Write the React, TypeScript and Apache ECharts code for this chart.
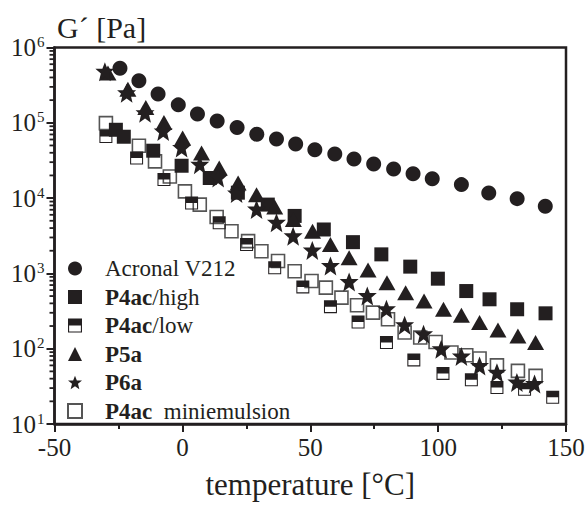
import React, { useEffect, useRef } from "react";
import * as echarts from "echarts";

const tAcronal = [-24.4, -17.0, -9.5, -1.6, 5.9, 13.6, 21.4, 29.1, 36.8, 44.3, 51.8, 59.6, 67.1, 74.8, 82.6, 90.2, 97.7, 109.1, 119.8, 130.9, 141.9];
const gAcronal = [531000, 363000, 242000, 173000, 131000, 106000, 86600, 70700, 60800, 52200, 43900, 38500, 33000, 28400, 24400, 21100, 18100, 15100, 11700, 9840, 7780];

const tHigh = [-26.0, -22.9, -11.4, -0.3, 10.7, 21.7, 33.4, 43.9, 55.3, 66.7, 77.8, 89.1, 99.9, 111.0, 120.1, 130.9, 142.0];
const gHigh = [80800, 65300, 42600, 26900, 18500, 11800, 8200, 5800, 3830, 2600, 1790, 1230, 851, 583, 453, 334, 295];

const tLow = [-29.9, -17.9, -7.2, 3.6, 14.4, 25.1, 36.1, 47.1, 57.9, 68.7, 79.8, 90.5, 101.9, 113.0, 123.0, 133.8, 144.8];
const gLow = [65900, 34000, 17600, 8630, 4690, 2420, 1190, 662, 362, 226, 121, 71, 47, 38.6, 30.6, 29, 22.6];

const tP5a = [-29.1, -21.3, -14.3, -7.2, 0.1, 7.5, 14.4, 21.8, 29.0, 36.1, 43.4, 50.9, 57.9, 65.2, 72.6, 80.0, 87.3, 94.5, 102.1, 109.1, 116.2, 123.4, 131.2, 138.1];
const gP5a = [459000, 280000, 160000, 101000, 62700, 39700, 25100, 15900, 11100, 7600, 5190, 3630, 2420, 1610, 1110, 754, 555, 430, 334, 278, 222, 177, 148, 121];

const tP6a = [-30.3, -21.8, -14.6, -7.5, -0.3, 6.8, 14.0, 21.2, 29.0, 36.8, 43.3, 50.8, 57.9, 65.2, 72.3, 79.8, 86.9, 94.3, 101.2, 109.1, 116.2, 123.0, 130.8, 137.7];
const gP6a = [478000, 247000, 134000, 76700, 46200, 27800, 18500, 11500, 7040, 4700, 3120, 2020, 1250, 767, 500, 334, 205, 156, 98, 79, 59, 48, 35.6, 33.9];

const tMini = [-29.9, -17.0, -10.7, -4.9, 1.0, 6.8, 13.4, 19.2, 25.7, 30.9, 37.4, 43.9, 50.5, 56.1, 62.2, 68.3, 74.5, 80.4, 86.9, 93.0, 99.0, 105.2, 111.0, 116.2, 123.0, 131.2, 138.1];
const gMini = [99100, 49600, 30700, 19400, 12300, 8200, 5600, 3630, 2680, 1970, 1460, 1070, 791, 647, 477, 377, 301, 246, 164, 141, 123, 89, 82, 74, 60, 50.8, 43.6];

const xTicks = [-50, 0, 50, 100, 150];
const yDecades = [10, 100, 1000, 10000, 100000, 1000000];

const names = ["Acronal V212", "P4ac/high", "P4ac/low", "P5a", "P6a", "P4ac  miniemulsion"];

const INK = "#231f20";
const FONT = "'Liberation Serif', 'Times New Roman', serif";
const HALF = "path://M0 0H20V20H0Z M1.6 1.6V18.4H18.4V1.6Z M1.6 1.6H18.4V10H1.6Z";
const STAR = "path://M50 0L63.2 32.5H100L71.4 56.2L81 95L50 73.5L19 95L28.6 56.2L0 32.5H36.8Z";

const pairs = (t: number[], g: number[]) => t.map((x, i) => [x, g[i]]);

export default function App() {
  const ref = useRef<HTMLDivElement>(null);
  useEffect(() => {
    if (!ref.current) return;
    const chart = echarts.init(ref.current, null, { renderer: "svg" });
    const minor: number[][] = [];
    for (let i = 0; i < yDecades.length - 1; i++) {
      for (let k = 2; k <= 9; k++) minor.push([-50, yDecades[i] * k]);
    }
    const base = { type: "scatter", animation: false };
    const solid = { color: INK, opacity: 1 };
    chart.setOption({
      animation: false,
      backgroundColor: "#fff",
      grid: {
        left: 54.5, right: 22, top: 47.5, bottom: 80,
        show: true, borderColor: INK, borderWidth: 2.5, backgroundColor: "transparent",
      },
      xAxis: {
        type: "value", min: -50, max: 150, interval: 50,
        axisLine: { onZero: false, lineStyle: { color: INK, width: 2.5 } },
        axisTick: { length: 8, lineStyle: { color: INK, width: 2 } },
        minorTick: { show: true, splitNumber: 2, length: 5, lineStyle: { color: INK, width: 2 } },
        splitLine: { show: false },
        axisLabel: { color: INK, fontFamily: FONT, fontSize: 25, margin: 11, formatter: (v: number) => (xTicks.includes(v) ? String(v) : "") },
        name: "temperature [°C]", nameLocation: "middle", nameGap: 45,
        nameTextStyle: { color: INK, fontFamily: FONT, fontSize: 31 },
      },
      yAxis: {
        type: "log", logBase: 10, min: 10, max: 1000000,
        axisLine: { onZero: false, lineStyle: { color: INK, width: 2.5 } },
        axisTick: { length: 8, lineStyle: { color: INK, width: 2 } },
        splitLine: { show: false },
        axisLabel: {
          margin: 10, color: INK, fontFamily: FONT,
          formatter: (v: number) => `{b|10}{s|${Math.round(Math.log10(v))}}`,
          rich: {
            b: { fontSize: 25, fontFamily: FONT, color: INK, lineHeight: 26 },
            s: { fontSize: 15, fontFamily: FONT, color: INK, verticalAlign: "top", lineHeight: 15, padding: [0, 0, 0, 1] },
          },
        },
      },
      legend: {
        orient: "vertical", left: 62, top: 252, itemWidth: 14, itemHeight: 14, itemGap: 5.5,
        selectedMode: false, data: names,
        formatter: (n: string) => {
          if (n === "Acronal V212") return `{sp|}{n|Acronal V212}`;
          if (n === "P4ac/high") return `{sp|}{b|P4ac}{n|/high}`;
          if (n === "P4ac/low") return `{sp|}{b|P4ac}{n|/low}`;
          if (n === "P5a") return `{sp|}{b|P5a}`;
          if (n === "P6a") return `{sp|}{b|P6a}`;
          return `{sp|}{b|P4ac}{n|  miniemulsion}`;
        },
        textStyle: {
          color: INK, fontFamily: FONT, fontSize: 23,
          rich: {
            sp: { width: 18 },
            n: { fontSize: 23, fontFamily: FONT, color: INK, lineHeight: 24 },
            b: { fontSize: 23, fontFamily: FONT, color: INK, fontWeight: "bold", lineHeight: 24 },
          },
        },
      },
      graphic: [
        { type: "text", left: 57, top: 12, style: { text: "G´ [Pa]", font: `30px ${FONT}`, fill: INK } },
      ],
      series: [
        {
          type: "custom", silent: true, clip: false, data: minor,
          renderItem: (_p: any, api: any) => {
            const pt = api.coord([api.value(0), api.value(1)]);
            return { type: "line", shape: { x1: pt[0] - 5, y1: pt[1], x2: pt[0], y2: pt[1] }, style: { stroke: INK, lineWidth: 1.8 } };
          },
        },
        { ...base, name: "P4ac  miniemulsion", data: pairs(tMini, gMini), symbol: "rect", symbolSize: 13, itemStyle: { color: "#fff", opacity: 1, borderColor: "#555", borderWidth: 1.6 } },
        { ...base, name: "P4ac/low", data: pairs(tLow, gLow), symbol: HALF, symbolSize: 13, itemStyle: solid },
        { ...base, name: "P4ac/high", data: pairs(tHigh, gHigh), symbol: "rect", symbolSize: 14, itemStyle: solid },
        { ...base, name: "P5a", data: pairs(tP5a, gP5a), symbol: "triangle", symbolSize: [17, 15], itemStyle: solid },
        { ...base, name: "P6a", data: pairs(tP6a, gP6a), symbol: STAR, symbolSize: 19, itemStyle: solid },
        { ...base, name: "Acronal V212", data: pairs(tAcronal, gAcronal), symbol: "circle", symbolSize: 15, itemStyle: solid },
      ],
    });
    return () => chart.dispose();
  }, []);
  return <div ref={ref} style={{ width: 588, height: 505, position: "absolute", left: 0, top: 0 }} />;
}
